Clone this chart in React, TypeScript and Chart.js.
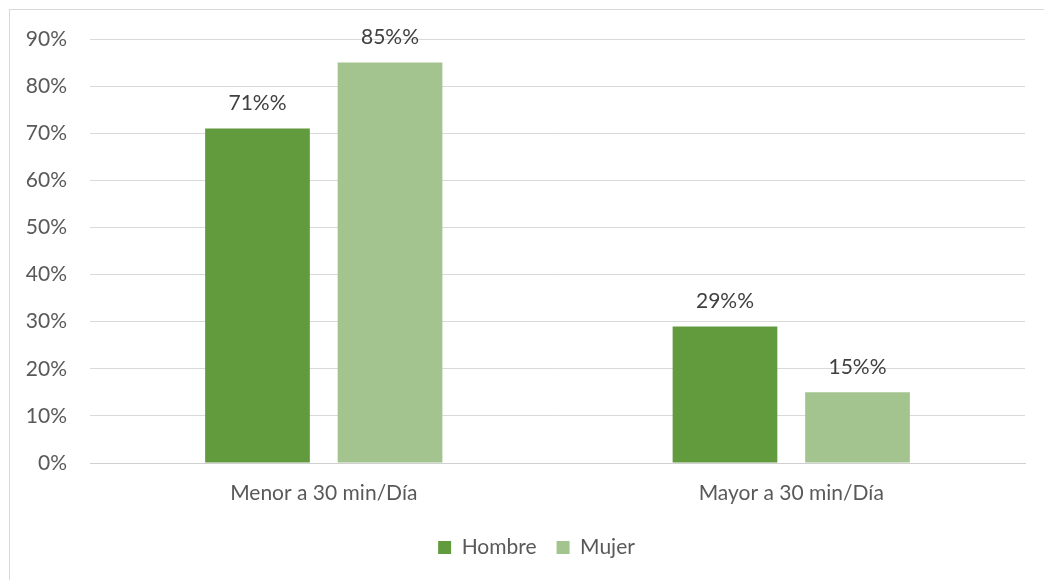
import React, { useEffect, useRef } from "react";
import { Chart, registerables } from "chart.js";

Chart.register(...registerables);

const categories = ["Menor a 30 min/Día", "Mayor a 30 min/Día"];
const seriesNames = ["Hombre", "Mujer"];
const hombre = [71, 29];
const mujer = [85, 15];
const yTicks = [0, 10, 20, 30, 40, 50, 60, 70, 80, 90];

const FONT = "Lato, 'Open Sans', sans-serif";
const TEXT = "#595959";

const dataLabels = {
  id: "dataLabels",
  afterDatasetsDraw(chart: any) {
    const ctx = chart.ctx;
    ctx.save();
    ctx.font = `21px ${FONT}`;
    ctx.fillStyle = "#404040";
    ctx.textAlign = "center";
    ctx.textBaseline = "middle";
    chart.data.datasets.forEach((ds: any, i: number) => {
      const meta = chart.getDatasetMeta(i);
      meta.data.forEach((bar: any, j: number) => {
        ctx.fillText(`${ds.data[j]}%%`, bar.x, bar.y - 25);
      });
    });
    ctx.restore();
  },
};

const legendShift = {
  id: "legendShift",
  afterLayout(chart: any) {
    const lg = chart.legend;
    if (lg) {
      lg.left += 19;
      lg.right += 19;
    }
  },
};

export default function App() {
  const ref = useRef<HTMLCanvasElement>(null);
  useEffect(() => {
    if (!ref.current) return;
    const chart = new Chart(ref.current, {
      type: "bar",
      data: {
        labels: categories,
        datasets: [
          {
            label: seriesNames[0],
            data: hombre,
            backgroundColor: "#629a3e",
            categoryPercentage: 0.567,
            barPercentage: 0.79,
          },
          {
            label: seriesNames[1],
            data: mujer,
            backgroundColor: "#a3c48f",
            categoryPercentage: 0.567,
            barPercentage: 0.79,
          },
        ],
      },
      options: {
        responsive: false,
        animation: false,
        layout: { padding: { left: 10, right: 19, top: 39, bottom: 12 } },
        plugins: {
          legend: {
            position: "bottom",
            labels: {
              font: { family: FONT, size: 21 },
              color: TEXT,
              boxWidth: 13,
              boxHeight: 13,
              padding: 20,
            },
          },
          tooltip: { enabled: false },
        },
        scales: {
          x: {
            grid: { display: false },
            border: { color: "#d0d0d0", width: 1 },
            ticks: {
              font: { family: FONT, size: 21 },
              color: TEXT,
              padding: 10,
            },
            afterFit: (s: any) => {
              s.height = 54;
            },
          },
          y: {
            min: 0,
            max: 90,
            afterBuildTicks: (s: any) => {
              s.ticks = yTicks.map((v) => ({ value: v }));
            },
            grid: { color: "#d9d9d9", lineWidth: 1, drawTicks: false },
            border: { display: false },
            ticks: {
              font: { family: FONT, size: 21 },
              color: TEXT,
              padding: 23,
              callback: (v: any) => `${v}%`,
            },
            afterFit: (s: any) => {
              s.width = 80;
            },
          },
        },
      },
      plugins: [dataLabels, legendShift],
    });
    return () => chart.destroy();
  }, []);
  return (
    <div style={{ position: "fixed", left: 0, top: 0, width: 1044, height: 580, background: "#fff", overflow: "hidden" }}>
      <div
        style={{
          position: "absolute",
          left: 9,
          top: 9,
          width: 1100,
          height: 700,
          borderTop: "1px solid #d9d9d9",
          borderLeft: "1px solid #d9d9d9",
        }}
      />
      <canvas ref={ref} width={1044} height={580} style={{ position: "absolute", left: 0, top: 0 }} />
    </div>
  );
}
